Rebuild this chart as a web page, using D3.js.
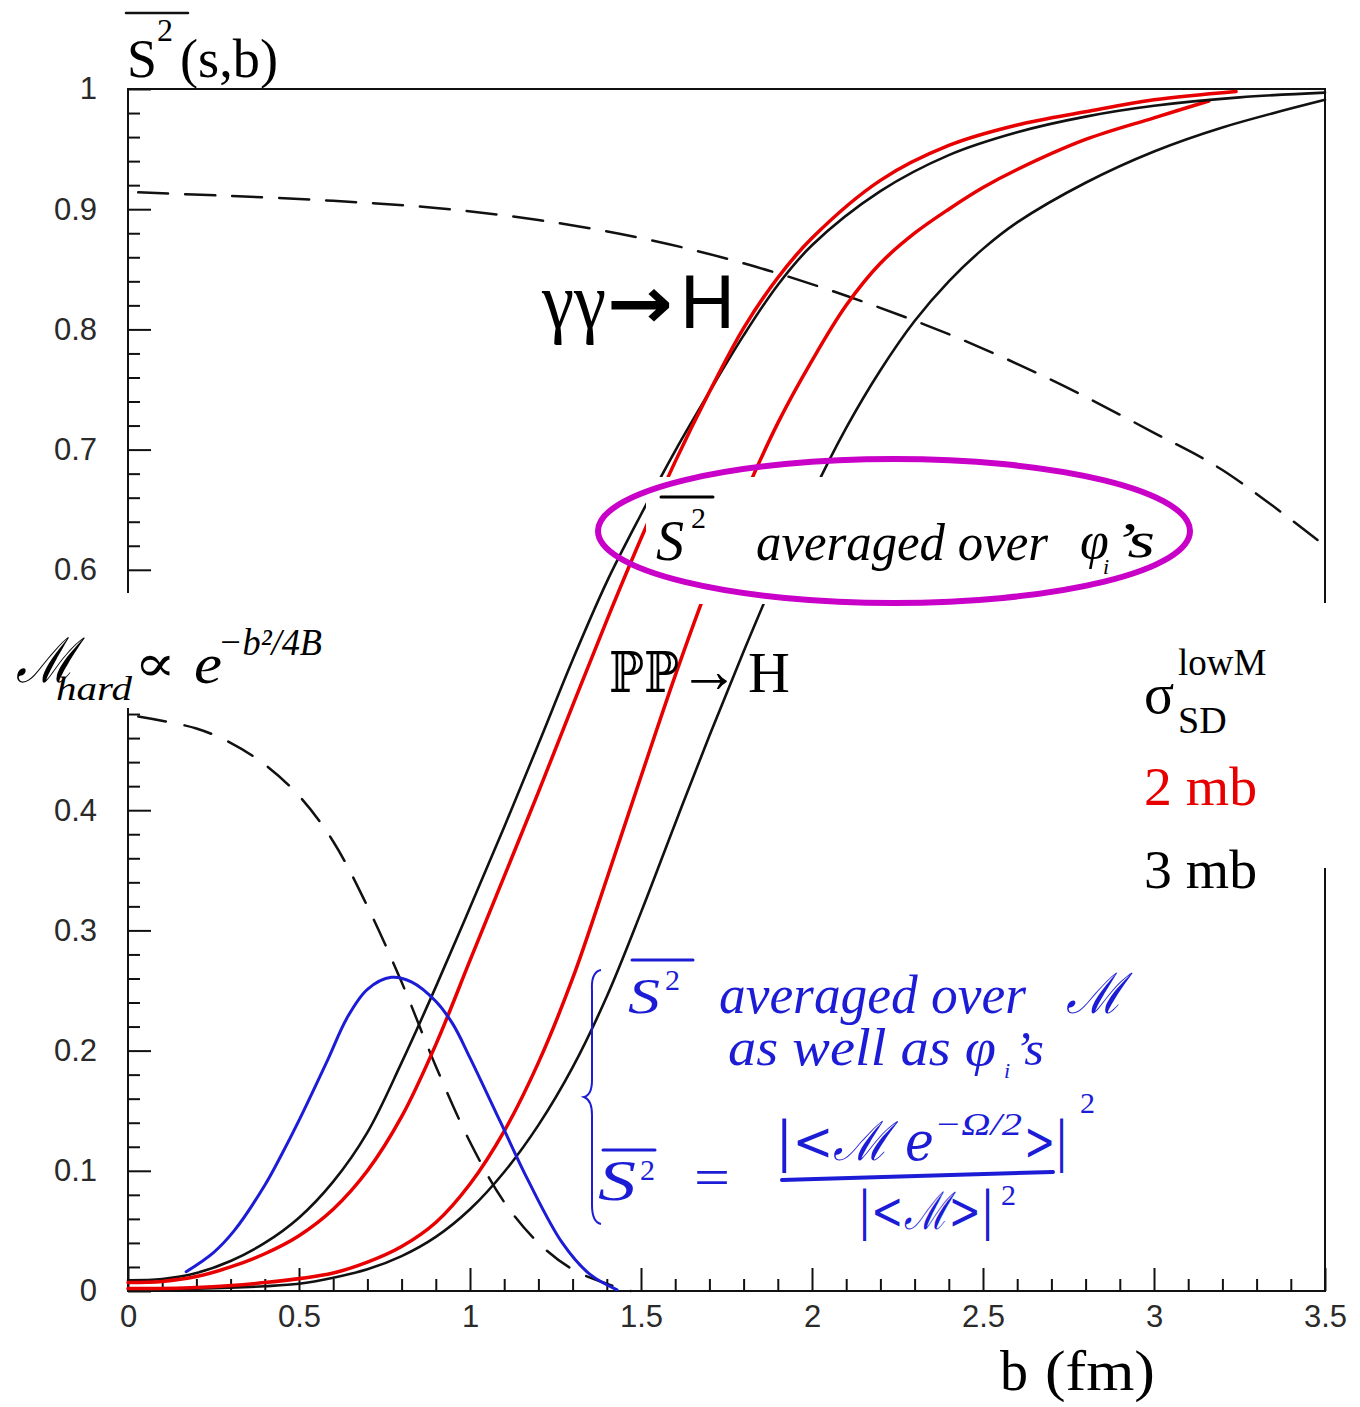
<!DOCTYPE html>
<html>
<head>
<meta charset="utf-8">
<script src="https://cdn.jsdelivr.net/npm/d3@7"></script>
<style>
  body { margin: 0; background: #fff; }
  svg { display: block; }
</style>
</head>
<body>
<svg id="chart" width="1360" height="1407"></svg>
<script>
// ---- axis ticks -------------------------------------------------------
const xTickValues = [0, 0.5, 1, 1.5, 2, 2.5, 3, 3.5];
const xTickLabels = ["0", "0.5", "1", "1.5", "2", "2.5", "3", "3.5"];
const yTickValues = [0, 0.1, 0.2, 0.3, 0.4, 0.5, 0.6, 0.7, 0.8, 0.9, 1];
const yTickLabels = ["0", "0.1", "0.2", "0.3", "0.4", "0.5", "0.6", "0.7", "0.8", "0.9", "1"];

// ---- survival factor S^2(s,b) vs impact parameter b (fm) -------------
// gamma gamma -> H, sigma_SD(lowM) = 3 mb
const bGammaH3 = [0, 0.1, 0.2, 0.3, 0.4, 0.5, 0.6, 0.7, 0.8, 0.9, 1.0, 1.1, 1.2, 1.3, 1.4, 1.5, 1.6, 1.7, 1.8, 1.9, 2.0, 2.2, 2.4, 2.6, 2.8, 3.0, 3.25, 3.5];
const s2GammaH3 = [0.009, 0.010, 0.015, 0.025, 0.040, 0.061, 0.091, 0.132, 0.190, 0.253, 0.319, 0.386, 0.455, 0.525, 0.59, 0.646, 0.699, 0.748, 0.795, 0.837, 0.870, 0.915, 0.945, 0.964, 0.977, 0.986, 0.993, 0.997];
// gamma gamma -> H, sigma_SD(lowM) = 2 mb
const bGammaH2 = [0, 0.1, 0.2, 0.3, 0.4, 0.5, 0.6, 0.7, 0.8, 0.9, 1.0, 1.1, 1.2, 1.3, 1.4, 1.5, 1.6, 1.7, 1.8, 1.9, 2.0, 2.2, 2.4, 2.6, 2.8, 3.0, 3.24];
const s2GammaH2 = [0.007, 0.008, 0.012, 0.020, 0.031, 0.046, 0.068, 0.100, 0.145, 0.205, 0.275, 0.345, 0.415, 0.487, 0.558, 0.626, 0.690, 0.748, 0.801, 0.843, 0.876, 0.924, 0.953, 0.970, 0.981, 0.991, 0.998];
// PP -> H, sigma_SD(lowM) = 2 mb
const bPomH2 = [0, 0.2, 0.4, 0.6, 0.7, 0.8, 0.9, 1.0, 1.1, 1.2, 1.3, 1.4, 1.5, 1.6, 1.7, 1.8, 1.9, 2.0, 2.1, 2.2, 2.3, 2.4, 2.5, 2.6, 2.8, 3.0, 3.16];
const s2PomH2 = [0.002, 0.003, 0.007, 0.015, 0.024, 0.037, 0.057, 0.089, 0.133, 0.19, 0.26, 0.343, 0.428, 0.512, 0.59, 0.66, 0.722, 0.774, 0.820, 0.855, 0.880, 0.900, 0.918, 0.933, 0.958, 0.976, 0.99];
// PP -> H, sigma_SD(lowM) = 3 mb
const bPomH3 = [0, 0.2, 0.4, 0.5, 0.6, 0.7, 0.8, 0.9, 1.0, 1.1, 1.2, 1.3, 1.4, 1.5, 1.6, 1.7, 1.8, 1.9, 2.0, 2.1, 2.2, 2.3, 2.4, 2.5, 2.6, 2.8, 3.0, 3.2, 3.5];
const s2PomH3 = [0.001, 0.002, 0.004, 0.006, 0.011, 0.018, 0.029, 0.045, 0.068, 0.099, 0.138, 0.186, 0.245, 0.315, 0.389, 0.462, 0.532, 0.599, 0.662, 0.718, 0.766, 0.807, 0.840, 0.867, 0.889, 0.922, 0.948, 0.968, 0.991];

// S^2 averaged over the phi_i (dashed, upper)
const bPhiAvg = [0.03, 0.3, 0.6, 0.9, 1.2, 1.5, 1.8, 2.1, 2.4, 2.7, 3.0, 3.2, 3.5];
const s2PhiAvg = [0.914, 0.911, 0.907, 0.901, 0.891, 0.876, 0.855, 0.828, 0.796, 0.758, 0.714, 0.683, 0.62];

// hard amplitude profile M_hard ~ exp(-b^2/4B) (dashed, lower)
const bHard = [0.03, 0.2, 0.3, 0.4, 0.5, 0.6, 0.7, 0.8, 0.9, 1.0, 1.1, 1.2, 1.3, 1.4, 1.47];
const mHard = [0.478, 0.468, 0.456, 0.438, 0.412, 0.374, 0.32, 0.257, 0.187, 0.124, 0.074, 0.04, 0.018, 0.006, 0];

// M-weighted survival density (blue)
const bWeighted = [0.17, 0.25, 0.31, 0.4, 0.45, 0.5, 0.585, 0.64, 0.7, 0.77, 0.83, 0.9, 0.95, 1.0, 1.09, 1.17, 1.27, 1.35, 1.43];
const weighted = [0.016, 0.032, 0.05, 0.088, 0.114, 0.142, 0.193, 0.227, 0.251, 0.261, 0.257, 0.241, 0.222, 0.194, 0.14, 0.092, 0.04, 0.014, 0.001];

// ---- scales -----------------------------------------------------------
const x = d3.scaleLinear().domain([0, 3.5]).range([128, 1325]);
const y = d3.scaleLinear().domain([0, 1]).range([1291, 89]);

const svg = d3.select("#chart");
const RED = "#e80000", BLUE = "#1c1cd6", MAGENTA = "#c800c8";
const tickFont = "'Liberation Sans', Arial, sans-serif";
const serif = "'Liberation Serif', 'Times New Roman', serif";

// ---- frame ------------------------------------------------------------
svg.append("rect")
  .attr("x", x(0)).attr("y", y(1))
  .attr("width", x(3.5) - x(0)).attr("height", y(0) - y(1))
  .attr("fill", "none").attr("stroke", "#111").attr("stroke-width", 2);

// ---- axes (ticks point into the frame) ----------------------------------
const yMinor = d3.range(0, 1.0001, 0.02).filter(v => Math.abs(v * 10 - Math.round(v * 10)) > 1e-6);
const xMinor = d3.range(0, 3.5001, 0.1).filter(v => Math.abs(v * 2 - Math.round(v * 2)) > 1e-6);

function styleAxis(g) {
  g.select(".domain").remove();
  g.selectAll(".tick line").attr("stroke", "#111").attr("stroke-width", 2);
  g.selectAll("text").attr("font-family", tickFont).attr("font-size", 31).attr("fill", "#2a2a2a");
}

svg.append("g").attr("transform", `translate(${x(0)},0)`)
  .call(d3.axisLeft(y).tickValues(yMinor).tickSize(-12).tickFormat(""))
  .call(styleAxis);
svg.append("g").attr("transform", `translate(${x(0)},0)`)
  .call(d3.axisLeft(y).tickValues(yTickValues).tickSize(-23).tickPadding(31)
    .tickFormat((d, i) => yTickLabels[i]))
  .call(styleAxis);

svg.append("g").attr("transform", `translate(0,${y(0)})`)
  .call(d3.axisBottom(x).tickValues(xMinor).tickSize(-12).tickFormat(""))
  .call(styleAxis);
svg.append("g").attr("transform", `translate(0,${y(0)})`)
  .call(d3.axisBottom(x).tickValues(xTickValues).tickSize(-23).tickPadding(14)
    .tickFormat((d, i) => xTickLabels[i]))
  .call(styleAxis);

// ---- curves -----------------------------------------------------------
const line = d3.line().x(d => x(d[0])).y(d => y(d[1])).curve(d3.curveCatmullRom.alpha(0.5));
const pairs = (bs, vs) => bs.map((b, i) => [b, vs[i]]);

function curve(bs, vs, color, width, dash) {
  svg.append("path")
    .datum(pairs(bs, vs))
    .attr("d", line)
    .attr("fill", "none")
    .attr("stroke", color)
    .attr("stroke-width", width)
    .attr("stroke-linecap", "round")
    .attr("stroke-dasharray", dash || null);
}

curve(bPhiAvg, s2PhiAvg, "#111", 2.5, "30,17");
curve(bHard, mHard, "#111", 2.5, "28,19");
curve(bPomH3, s2PomH3, "#111", 2.6);
curve(bPomH2, s2PomH2, RED, 3.5);
curve(bGammaH3, s2GammaH3, "#111", 2.6);
curve(bGammaH2, s2GammaH2, RED, 3.5);
curve(bWeighted, weighted, BLUE, 3);

// ---- annotation backgrounds ----------------------------------------------
svg.append("rect").attr("x", 0).attr("y", 593).attr("width", 336).attr("height", 115).attr("fill", "#fff");
svg.append("rect").attr("x", 646).attr("y", 477).attr("width", 549).attr("height", 127).attr("fill", "#fff");
svg.append("rect").attr("x", 1135).attr("y", 603).attr("width", 225).attr("height", 265).attr("fill", "#fff");

// ---- helpers ----------------------------------------------------------
function txt(str, px, py, opt = {}) {
  const t = svg.append("text")
    .attr("x", px).attr("y", py)
    .attr("font-family", opt.family || serif)
    .attr("font-size", opt.size || 40)
    .attr("fill", opt.fill || "#000")
    .text(str);
  if (opt.italic) t.attr("font-style", "italic");
  if (opt.weight) t.attr("font-weight", opt.weight);
  if (opt.len) t.attr("textLength", opt.len).attr("lengthAdjust", "spacingAndGlyphs");
  if (opt.anchor) t.attr("text-anchor", opt.anchor);
  return t;
}
function bar(x1, y1, x2, y2, color, w) {
  svg.append("line").attr("x1", x1).attr("y1", y1).attr("x2", x2).attr("y2", y2)
    .attr("stroke", color).attr("stroke-width", w).attr("stroke-linecap", "round");
}

// ---- axis titles ----------------------------------------------------------
txt("S", 127, 77, { size: 54, len: 30 });
txt("2", 157, 41, { size: 32 });
txt("(s,b)", 180, 77, { size: 54, len: 98 });
bar(126, 13, 188, 13, "#111", 2.5);

txt("b", 1000, 1390, { size: 56 });
txt("(fm)", 1045, 1390, { size: 56, len: 110 });

// ---- process labels -------------------------------------------------------
txt("γγ", 542, 328, { size: 80, len: 64 });
txt("→", 607, 328, { size: 72, family: "'DejaVu Sans', sans-serif", weight: "bold", len: 66 });
txt("H", 680, 328, { size: 76, family: tickFont });

txt("ℙℙ", 609, 692, { size: 56, family: "'DejaVu Serif', serif", len: 70 });
txt("→", 679, 692, { size: 64, len: 60 });
txt("H", 748, 692, { size: 58 });

// ---- legend ------------------------------------------------------------
txt("σ", 1144, 713, { size: 56 });
txt("SD", 1178, 733, { size: 38 });
txt("lowM", 1178, 675, { size: 37 });
txt("2 mb", 1144, 805, { size: 54, fill: RED, len: 113 });
txt("3 mb", 1144, 888, { size: 54, len: 113 });

// ---- handwritten notes ----------------------------------------------------
// M_hard ~ exp(-b^2/4B)
txt("ℳ", 16, 682, { size: 62, family: "'DejaVu Serif', serif", italic: true, len: 60 });
txt("hard", 56, 700, { size: 33, italic: true, len: 76 });
txt("∝", 134, 681, { size: 52, family: "'DejaVu Serif', serif", len: 42 });
txt("e", 194, 683, { size: 58, italic: true, len: 28 });
txt("−b²/4B", 218, 655, { size: 38, italic: true, len: 104 });

// S^2 averaged over phi_i's (circled)
txt("S", 656, 560, { size: 56, italic: true, len: 28 });
bar(661, 497, 713, 497, "#000", 3);
txt("2", 691, 528, { size: 30 });
txt("averaged over", 756, 560, { size: 52, italic: true, len: 292 });
txt("φ", 1080, 558, { size: 52, italic: true });
txt("i", 1103, 574, { size: 22, italic: true });
txt("’s", 1113, 557, { size: 50, italic: true, len: 42 });

svg.append("ellipse")
  .attr("cx", 894).attr("cy", 531).attr("rx", 296).attr("ry", 72)
  .attr("fill", "none").attr("stroke", MAGENTA).attr("stroke-width", 6);

// blue note with brace
svg.append("path")
  .attr("d", "M601,970 Q591,972 592,990 L592,1080 Q592,1095 584,1097 Q592,1100 592,1115 L592,1205 Q592,1222 601,1224")
  .attr("fill", "none").attr("stroke", BLUE).attr("stroke-width", 2);

txt("S", 628, 1013, { size: 50, italic: true, fill: BLUE, len: 32 });
bar(632, 960, 693, 960, BLUE, 3);
txt("2", 665, 990, { size: 30, fill: BLUE });
txt("averaged over", 719, 1013, { size: 54, italic: true, fill: BLUE, len: 307 });
txt("ℳ", 1066, 1013, { size: 56, family: "'DejaVu Serif', serif", italic: true, fill: BLUE, len: 58 });
txt("as well as φ", 728, 1065, { size: 52, italic: true, fill: BLUE, len: 268 });
txt("i", 1004, 1078, { size: 22, italic: true, fill: BLUE });
txt("’s", 1014, 1065, { size: 48, italic: true, fill: BLUE, len: 30 });

txt("S", 598, 1200, { size: 56, italic: true, fill: BLUE, len: 38 });
bar(603, 1150, 655, 1150, BLUE, 3);
txt("2", 640, 1180, { size: 30, fill: BLUE });
txt("=", 694, 1195, { size: 52, fill: BLUE, len: 36 });
txt("|<ℳ e", 776, 1160, { size: 54, family: "'DejaVu Serif', serif", italic: true, fill: BLUE, len: 158 });
txt("−Ω/2", 934, 1135, { size: 32, italic: true, fill: BLUE, len: 88 });
txt(">|", 1024, 1160, { size: 54, family: "'DejaVu Serif', serif", fill: BLUE, len: 44 });
txt("2", 1080, 1113, { size: 30, fill: BLUE });
bar(782, 1180, 1053, 1172, BLUE, 4);
txt("|<ℳ>|", 858, 1229, { size: 52, family: "'DejaVu Serif', serif", italic: true, fill: BLUE, len: 136 });
txt("2", 1001, 1205, { size: 30, fill: BLUE });
</script>
</body>
</html>
